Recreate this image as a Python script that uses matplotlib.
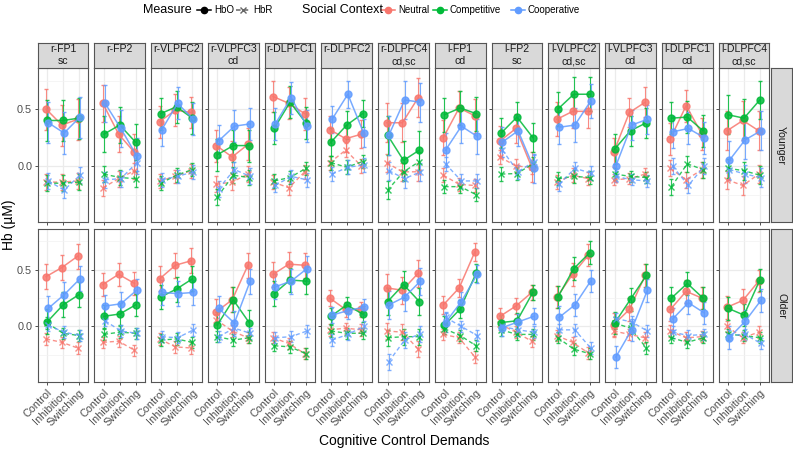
import matplotlib
matplotlib.use("Agg")
import matplotlib.pyplot as plt
from matplotlib.lines import Line2D
import numpy as np

plt.rcParams['font.family'] = ['Liberation Sans', 'DejaVu Sans']

# facets
regions = ["r-FP1", "r-FP2", "r-VLPFC2", "r-VLPFC3", "r-DLPFC1", "r-DLPFC2", "r-DLPFC4",
           "l-FP1", "l-FP2", "l-VLPFC2", "l-VLPFC3", "l-DLPFC1", "l-DLPFC4"]
effects = ["sc", "", "", "cd", "", "", "cd,sc", "cd", "sc", "cd,sc", "cd", "cd", "cd,sc"]
conditions = ["Control", "Inhibition", "Switching"]
contexts = ["Neutral", "Competitive", "Cooperative"]
age_groups = ["Younger", "Older"]

# each region: [neutral, competitive, cooperative] x [control, inhibition, switching]
young_hbo = [
    [[0.50, 0.36, 0.41], [0.40, 0.40, 0.42], [0.38, 0.29, 0.43]],
    [[0.55, 0.28, 0.12], [0.28, 0.36, 0.21], [0.55, 0.33, 0.09]],
    [[0.39, 0.49, 0.47], [0.46, 0.52, 0.42], [0.32, 0.55, 0.41]],
    [[0.18, 0.08, 0.19], [0.10, 0.18, 0.18], [0.22, 0.35, 0.37]],
    [[0.61, 0.55, 0.46], [0.33, 0.56, 0.38], [0.37, 0.60, 0.35]],
    [[0.32, 0.24, 0.28], [0.21, 0.36, 0.46], [0.41, 0.63, 0.29]],
    [[0.38, 0.38, 0.60], [0.27, 0.05, 0.14], [0.27, 0.58, 0.56]],
    [[0.25, 0.51, 0.44], [0.45, 0.51, 0.46], [0.14, 0.35, 0.26]],
    [[0.22, 0.33, -0.01], [0.29, 0.43, 0.25], [0.21, 0.31, -0.02]],
    [[0.41, 0.48, 0.48], [0.50, 0.63, 0.63], [0.34, 0.36, 0.57]],
    [[0.12, 0.47, 0.56], [0.15, 0.31, 0.38], [0.00, 0.36, 0.41]],
    [[0.24, 0.53, 0.28], [0.42, 0.43, 0.31], [0.30, 0.33, 0.25]],
    [[0.31, 0.40, 0.31], [0.45, 0.42, 0.58], [0.05, 0.23, 0.31]],
]
young_hbr = [
    [[-0.14, -0.14, -0.13], [-0.15, -0.15, -0.14], [-0.13, -0.21, -0.08]],
    [[-0.19, -0.11, -0.04], [-0.07, -0.10, -0.11], [-0.12, -0.11, 0.03]],
    [[-0.13, -0.09, -0.04], [-0.15, -0.08, -0.03], [-0.12, -0.09, -0.05]],
    [[-0.16, -0.14, -0.07], [-0.27, -0.08, -0.10], [-0.20, -0.03, -0.09]],
    [[-0.14, -0.19, -0.05], [-0.13, -0.10, -0.02], [-0.17, -0.09, -0.12]],
    [[0.03, 0.14, 0.00], [0.03, -0.01, 0.04], [-0.07, -0.01, 0.01]],
    [[0.03, -0.05, -0.05], [-0.21, -0.05, 0.04], [-0.04, -0.11, -0.05]],
    [[-0.08, -0.16, -0.17], [-0.18, -0.18, -0.25], [0.02, -0.13, -0.13]],
    [[0.08, 0.00, -0.01], [-0.07, -0.065, 0.02], [0.14, -0.05, 0.04]],
    [[-0.14, -0.08, -0.11], [-0.11, -0.09, -0.10], [-0.16, -0.02, -0.06]],
    [[-0.12, -0.11, -0.07], [-0.07, -0.09, -0.10], [-0.09, -0.12, -0.13]],
    [[-0.02, -0.12, -0.03], [-0.18, 0.02, -0.03], [0.00, -0.17, 0.00]],
    [[-0.12, -0.17, -0.07], [-0.02, -0.04, -0.08], [-0.03, -0.07, -0.10]],
]
old_hbo = [
    [[0.44, 0.52, 0.62], [0.04, 0.19, 0.28], [0.16, 0.28, 0.42]],
    [[0.37, 0.46, 0.38], [0.09, 0.11, 0.19], [0.18, 0.20, 0.32]],
    [[0.42, 0.54, 0.58], [0.26, 0.33, 0.42], [0.30, 0.29, 0.30]],
    [[0.13, 0.235, 0.54], [0.015, 0.235, 0.035], [0.16, 0.03, 0.40]],
    [[0.46, 0.55, 0.54], [0.29, 0.41, 0.40], [0.35, 0.40, 0.51]],
    [[0.25, 0.15, 0.15], [0.09, 0.19, 0.11], [0.10, 0.14, 0.17]],
    [[0.34, 0.32, 0.47], [0.22, 0.37, 0.22], [0.19, 0.26, 0.40]],
    [[0.19, 0.34, 0.66], [0.01, 0.155, 0.47], [0.035, 0.22, 0.46]],
    [[0.09, 0.18, 0.30], [0.035, 0.05, 0.30], [-0.01, 0.04, 0.09]],
    [[0.26, 0.46, 0.63], [0.26, 0.51, 0.65], [0.08, 0.19, 0.40]],
    [[0.015, 0.15, 0.45], [0.03, 0.24, 0.45], [-0.27, -0.03, 0.32]],
    [[0.15, 0.31, 0.25], [0.25, 0.38, 0.25], [0.065, 0.21, 0.12]],
    [[0.17, 0.23, 0.40], [0.16, 0.10, 0.41], [-0.10, 0.045, 0.23]],
]
old_hbr = [
    [[-0.11, -0.14, -0.19], [0.03, -0.06, -0.08], [0.01, -0.05, -0.08]],
    [[-0.14, -0.13, -0.21], [-0.07, -0.05, -0.06], [0.05, -0.04, -0.06]],
    [[-0.11, -0.18, -0.19], [-0.12, -0.11, -0.14], [-0.09, -0.10, -0.03]],
    [[0.06, -0.04, -0.10], [-0.09, -0.12, -0.10], [-0.09, -0.015, -0.06]],
    [[-0.10, -0.15, -0.24], [-0.17, -0.18, -0.24], [-0.10, -0.09, -0.04]],
    [[-0.03, -0.015, -0.03], [-0.04, -0.06, -0.06], [-0.12, -0.07, 0.00]],
    [[-0.04, -0.05, -0.20], [-0.10, -0.09, -0.09], [-0.31, -0.12, -0.065]],
    [[-0.07, -0.10, -0.27], [-0.02, -0.08, -0.17], [0.08, 0.00, -0.08]],
    [[0.02, -0.05, -0.13], [-0.03, -0.07, -0.07], [0.00, -0.03, -0.05]],
    [[-0.08, -0.14, -0.235], [-0.10, -0.20, -0.24], [-0.03, -0.03, -0.19]],
    [[-0.04, -0.07, -0.10], [0.03, -0.015, -0.19], [0.07, 0.04, -0.04]],
    [[-0.04, -0.10, -0.09], [-0.10, -0.14, -0.10], [-0.05, -0.08, -0.07]],
    [[0.00, -0.10, -0.05], [-0.07, -0.08, -0.10], [-0.08, -0.07, -0.15]],
]
# typical standard errors per region
young_hbo_se = [0.18, 0.16, 0.14, 0.14, 0.14, 0.12, 0.17, 0.15, 0.13, 0.15, 0.13, 0.14, 0.17]
young_hbr_se = [0.07, 0.07, 0.06, 0.07, 0.06, 0.06, 0.08, 0.06, 0.06, 0.06, 0.05, 0.07, 0.08]
old_hbo_se = [0.11, 0.10, 0.11, 0.11, 0.11, 0.07, 0.12, 0.08, 0.07, 0.10, 0.10, 0.10, 0.10]
old_hbr_se = [0.05, 0.05, 0.05, 0.05, 0.05, 0.05, 0.07, 0.05, 0.05, 0.05, 0.05, 0.05, 0.05]

colors = ["#F8766D", "#00BA38", "#619CFF"]

W, H = 793, 454
fig = plt.figure(figsize=(W / 100, H / 100), dpi=100)


def rect(x0, y0, w, h):
    # pixel box (top-left origin) -> figure fraction
    return [x0 / W, 1 - (y0 + h) / H, w / W, h / H]


left0, pw, step = 37.7, 50.6, 56.75
row_top = [68, 229]
row_h = [154, 153]
x = np.arange(1, 4)
offsets = [-0.07, 0.0, 0.07]

rows = [(young_hbo, young_hbr, young_hbo_se, young_hbr_se),
        (old_hbo, old_hbr, old_hbo_se, old_hbr_se)]

for r, (hbo, hbr, hbo_se, hbr_se) in enumerate(rows):
    for i, reg in enumerate(regions):
        ax = fig.add_axes(rect(left0 + i * step, row_top[r], pw, row_h[r]))
        ax.set_xlim(0.4, 3.6)
        ax.set_ylim(-0.49, 0.86)
        ax.set_xticks(x)
        ax.set_yticks([0.0, 0.5])
        ax.set_yticks([-0.25, 0.25, 0.75], minor=True)
        ax.grid(True, which='major', color='#EBEBEB', lw=0.9)
        ax.grid(True, which='minor', axis='y', color='#F2F2F2', lw=0.5)
        ax.set_axisbelow(True)
        for sp in ax.spines.values():
            sp.set_color('#555555')
            sp.set_linewidth(0.8)
        ax.tick_params(which='major', length=2.5, width=0.6, color='#333333',
                       labelsize=7.8, labelcolor='#4D4D4D', pad=1.5)
        ax.tick_params(which='minor', length=0)
        if r == 1:
            ax.set_xticklabels(conditions, rotation=45, ha='right', rotation_mode='anchor')
        else:
            ax.set_xticklabels([])
        if i == 0:
            ax.set_yticklabels(["0.0", "0.5"])
        else:
            ax.set_yticklabels([])

        for k in range(3):
            xs = x + offsets[k]
            ax.errorbar(xs, hbr[i][k], yerr=hbr_se[i], fmt='x', ls=(0, (3, 2)),
                        color=colors[k], ms=5, mew=1.0, lw=1.0, elinewidth=0.8,
                        capsize=1.2, alpha=0.8)
            ax.errorbar(xs, hbo[i][k], yerr=hbo_se[i], fmt='o', ls='-',
                        color=colors[k], ms=5, lw=1.1, elinewidth=0.8,
                        capsize=1.2, alpha=0.85)

        # top strips
        if r == 0:
            sax = fig.add_axes(rect(left0 + i * step, 43, pw, 24.5))
            sax.set_facecolor('#D9D9D9')
            sax.set_xticks([])
            sax.set_yticks([])
            for sp in sax.spines.values():
                sp.set_color('#555555')
                sp.set_linewidth(0.8)
            sax.text(0.5, 0.5, reg + "\n" + effects[i], ha='center', va='center',
                     fontsize=7.6, color='#1A1A1A', linespacing=1.25,
                     transform=sax.transAxes)

    # right strips
    rax = fig.add_axes(rect(771, row_top[r], 20.5, row_h[r]))
    rax.set_facecolor('#D9D9D9')
    rax.set_xticks([])
    rax.set_yticks([])
    for sp in rax.spines.values():
        sp.set_color('#555555')
        sp.set_linewidth(0.8)
    rax.text(0.5, 0.5, age_groups[r], rotation=-90, ha='center', va='center',
             fontsize=7.6, color='#1A1A1A', transform=rax.transAxes)

# axis titles
fig.text(9 / W, 1 - 225 / H, "Hb (µM)", rotation=90, ha='center', va='center', fontsize=10)
fig.text(404 / W, 1 - 441 / H, "Cognitive Control Demands", ha='center', va='center', fontsize=10)

# legend
ly = 1 - 10 / H


def key(x0, color, dashed, marker):
    fig.add_artist(Line2D([x0 / W, (x0 + 14) / W], [ly, ly], transform=fig.transFigure,
                          color=color, lw=1.1, ls=(0, (3, 2)) if dashed else '-'))
    fig.add_artist(Line2D([(x0 + 7) / W], [ly], transform=fig.transFigure, color=color,
                          marker=marker, ms=4.5, mew=1.0, ls='none'))


fig.text(143 / W, ly, "Measure", fontsize=9, va='center')
key(197, 'black', False, 'o')
fig.text(214 / W, ly, "HbO", fontsize=7, va='center')
key(236, '#666666', True, 'x')
fig.text(253 / W, ly, "HbR", fontsize=7, va='center')
fig.text(302 / W, ly, "Social Context", fontsize=9, va='center')
leg_x = [381, 433, 511]
for k, c in enumerate(contexts):
    key(leg_x[k], colors[k], False, 'o')
    fig.text((leg_x[k] + 17) / W, ly, c, fontsize=7, va='center')

fig.savefig("out.png", dpi=100)
